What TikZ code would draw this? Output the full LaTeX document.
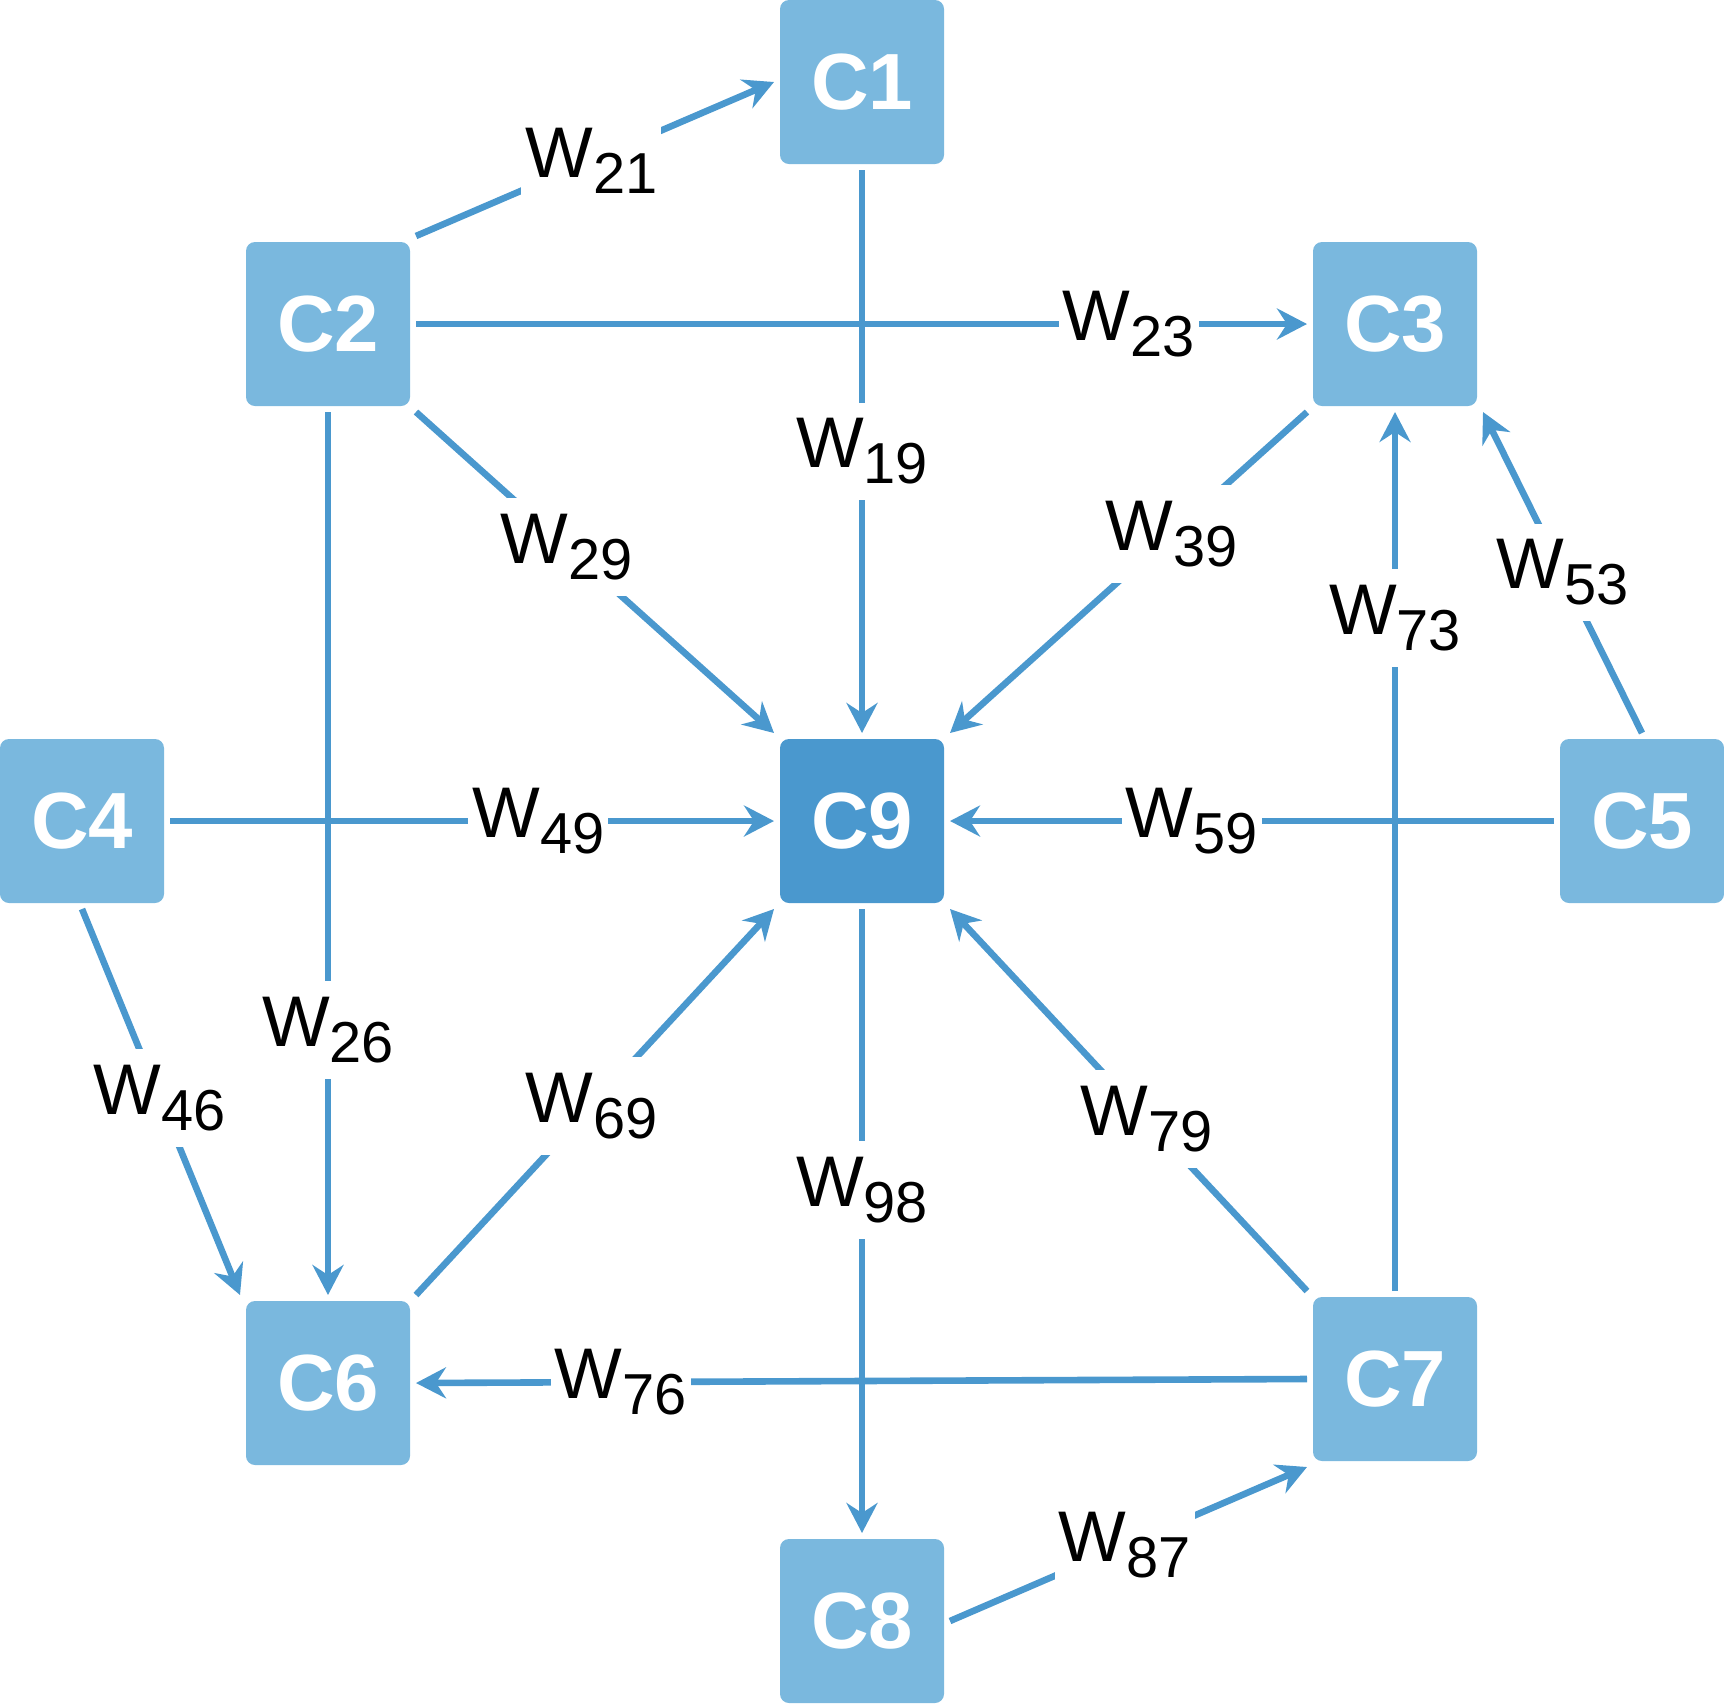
\documentclass[tikz,border=0pt]{standalone}
\usepackage{fontspec}
\setmainfont{Liberation Sans}
\usetikzlibrary{arrows.meta}
\definecolor{boxlight}{HTML}{7AB8DE}
\definecolor{boxdark}{HTML}{4A98CE}
\definecolor{linec}{HTML}{4A98CE}
\newcommand{\wlab}[1]{\fontsize{36}{36}\selectfont W\raisebox{-8bp}{\fontsize{29}{29}\selectfont #1}}
\begin{document}
\begin{tikzpicture}[x=0.5bp,y=-0.5bp,
 cbox/.style={fill=boxlight, rounded corners=4.5bp, minimum width=82bp, minimum height=82bp, text=white, font=\fontsize{40}{40}\selectfont\bfseries, outer sep=3bp, inner sep=0pt},
 cdark/.style={cbox, fill=boxdark},
 conn/.style={draw=linec, line width=3.3bp, -{Stealth[length=15bp,width=15.5bp,inset=5bp]}},
 wl/.style={fill=white, inner xsep=2bp, inner ysep=8bp, text=black}]
\useasboundingbox (0,0) rectangle (1724,1706);
\node[cbox] (c1) at (862,82) {C1};
\node[cbox] (c2) at (328,324) {C2};
\node[cbox] (c3) at (1395,324) {C3};
\node[cbox] (c4) at (82,821) {C4};
\node[cbox] (c5) at (1642,821) {C5};
\node[cdark] (c9) at (862,821) {C9};
\node[cbox] (c6) at (328,1383) {C6};
\node[cbox] (c7) at (1395,1379) {C7};
\node[cbox] (c8) at (862,1621) {C8};

\draw[conn] (c2.north east) -- node[wl,pos=0.49]{\wlab{21}} (c1.west);
\draw[conn] (c1.south) -- node[wl,pos=0.5]{\wlab{19}} (c9.north);
\draw[conn] (c2.east) -- node[wl,pos=0.8]{\wlab{23}} (c3.west);
\draw[conn] (c2.south east) -- node[wl,pos=0.42]{\wlab{29}} (c9.north west);
\draw[conn] (c3.south west) -- node[wl,pos=0.38]{\wlab{39}} (c9.north east);
\draw[conn] (c5.north) -- node[wl,pos=0.5]{\wlab{53}} (c3.south east);
\draw[conn] (c7.north) -- node[wl,pos=0.766]{\wlab{73}} (c3.south);
\draw[conn] (c4.east) -- node[wl,pos=0.61]{\wlab{49}} (c9.west);
\draw[conn] (c5.west) -- node[wl,pos=0.6]{\wlab{59}} (c9.east);
\draw[conn] (c2.south) -- node[wl,pos=0.7]{\wlab{26}} (c6.north);
\draw[conn] (c4.south) -- node[wl,pos=0.49]{\wlab{46}} (c6.north west);
\draw[conn] (c6.north east) -- node[wl,pos=0.49]{\wlab{69}} (c9.south west);
\draw[conn] (c7.north west) -- node[wl,pos=0.45]{\wlab{79}} (c9.south east);
\draw[conn] (c9.south) -- node[wl,pos=0.45]{\wlab{98}} (c8.north);
\draw[conn] (c7.west) -- node[wl,pos=0.77]{\wlab{76}} (c6.east);
\draw[conn] (c8.east) -- node[wl,pos=0.49]{\wlab{87}} (c7.south west);
\end{tikzpicture}
\end{document}
